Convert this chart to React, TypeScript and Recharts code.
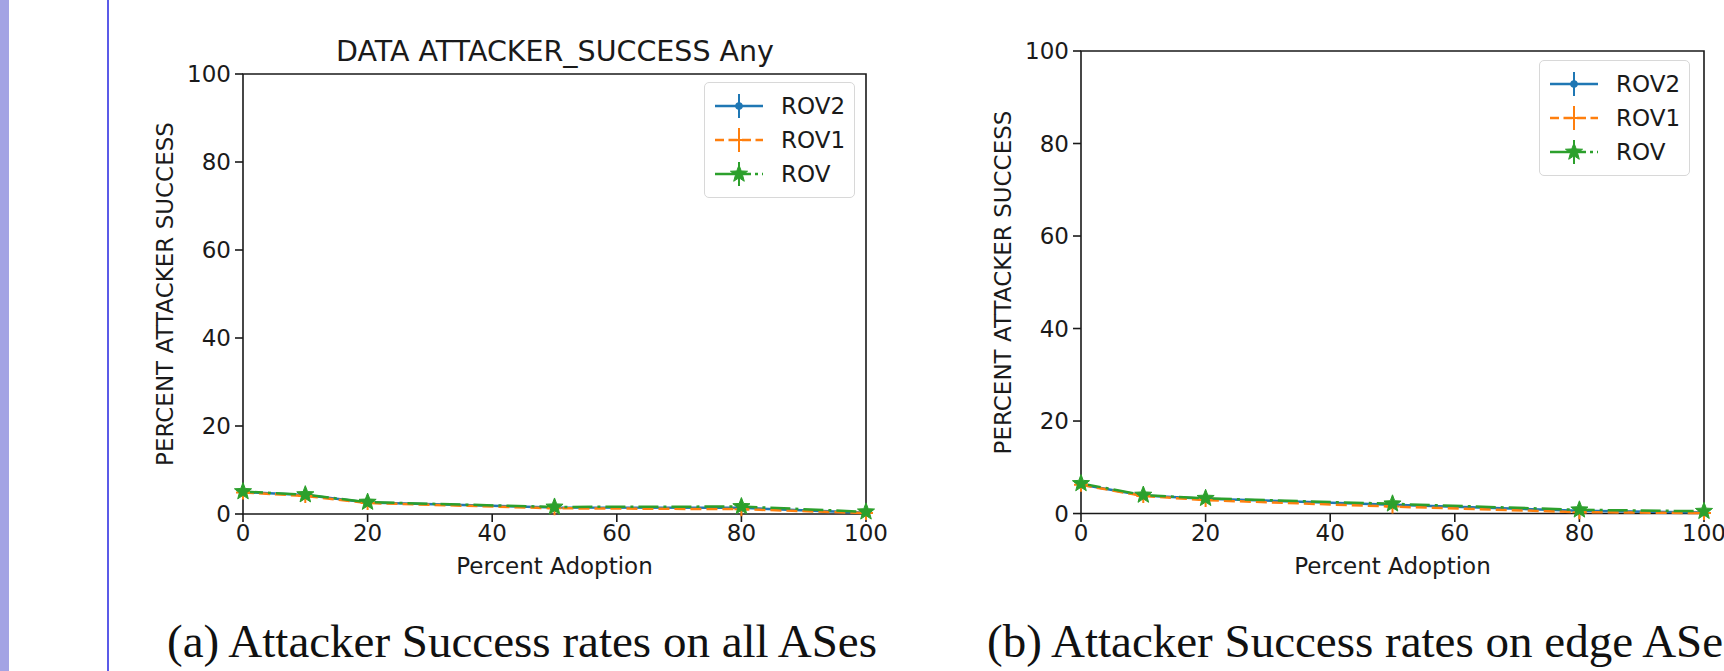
import React from 'react';
import { LineChart, Line, XAxis, YAxis, ErrorBar, ReferenceArea } from 'recharts';

// percent adoption steps (x) and axis ticks
const adoption = [0, 10, 20, 50, 80, 100];
const xTicks = [0, 20, 40, 60, 80, 100];
const yTicks = [0, 20, 40, 60, 80, 100];

// (a) all ASes
const allRov2 = [5.0, 4.3, 2.6, 1.5, 1.4, 0.3];
const allRov1 = [4.9, 4.1, 2.5, 1.3, 1.1, 0.2];
const allRov = [5.1, 4.4, 2.7, 1.6, 1.7, 0.5];
const allRov2Err = [0.6, 0.6, 0.5, 0.4, 0.5, 0.2];
const allRov1Err = [0.6, 0.7, 0.5, 0.4, 0.5, 0.2];
const allRovErr = [0.7, 0.8, 0.6, 0.7, 1.4, 0.4];

// (b) edge ASes
const edgeRov2 = [6.3, 3.9, 3.2, 1.9, 0.6, 0.2];
const edgeRov1 = [6.2, 3.8, 2.9, 1.5, 0.3, 0.1];
const edgeRov = [6.5, 4.0, 3.3, 2.1, 0.8, 0.5];
const edgeRov2Err = [0.7, 0.6, 0.6, 0.5, 0.3, 0.2];
const edgeRov1Err = [0.7, 0.6, 0.6, 0.5, 0.3, 0.2];
const edgeRovErr = [0.8, 0.8, 0.8, 1.0, 0.5, 0.4];

const FONT = "'DejaVu Sans', sans-serif";
const INK = '#1a1a1a';

const series = [
    { key: 'rov2', name: 'ROV2', color: '#1f77b4', dash: undefined, legendDash: undefined, marker: 'dot' },
    { key: 'rov1', name: 'ROV1', color: '#ff7f0e', dash: '11 5', legendDash: '9 4.5', marker: 'plus' },
    { key: 'rov', name: 'ROV', color: '#2ca02c', dash: '20 5 3 5', legendDash: '36 4 3 4', marker: 'star' },
];

const buildRows = (rov2: number[], rov1: number[], rov: number[], e2: number[], e1: number[], e0: number[]) =>
    adoption.map((x, i) => ({
        x,
        rov2: rov2[i], rov2Err: e2[i],
        rov1: rov1[i], rov1Err: e1[i],
        rov: rov[i], rovErr: e0[i],
    }));

const allRows = buildRows(allRov2, allRov1, allRov, allRov2Err, allRov1Err, allRovErr);
const edgeRows = buildRows(edgeRov2, edgeRov1, edgeRov, edgeRov2Err, edgeRov1Err, edgeRovErr);

const starPoints = (cx: number, cy: number, ro: number, ri: number) => {
    const pts = [];
    for (let i = 0; i < 10; i++) {
        const r = i % 2 === 0 ? ro : ri;
        const a = -Math.PI / 2 + (i * Math.PI) / 5;
        pts.push(`${cx + r * Math.cos(a)},${cy + r * Math.sin(a)}`);
    }
    return pts.join(' ');
};

const Marker = ({ cx, cy, type, color }: any) => {
    if (cx == null || cy == null) return null;
    if (type === 'dot') return <circle cx={cx} cy={cy} r={3.8} fill={color} />;
    if (type === 'plus')
        return (
            <path d={`M${cx - 7},${cy}H${cx + 7}M${cx},${cy - 7}V${cy + 7}`} stroke={color} strokeWidth={2} />
        );
    return <polygon points={starPoints(cx, cy, 9, 3.8)} fill={color} stroke={color} strokeWidth={1} />;
};

// drawn outside the chart so it does not eat into the plot area
const LegendBox = ({ left, top }: { left: number; top: number }) => (
    <div
        style={{
            position: 'absolute',
            left,
            top,
            width: 151,
            height: 116,
            boxSizing: 'border-box',
            border: '1.5px solid #d8d8d8',
            borderRadius: 5,
            background: 'rgba(255,255,255,0.8)',
            paddingTop: 6,
        }}
    >
        {series.map(s => (
            <div key={s.key} style={{ display: 'flex', alignItems: 'center', height: 34 }}>
                <svg width={70} height={34}>
                    <line x1={10} x2={58} y1={17} y2={17} stroke={s.color} strokeWidth={2.5} strokeDasharray={s.legendDash} />
                    <line x1={34} x2={34} y1={5} y2={29} stroke={s.color} strokeWidth={2} />
                    <Marker cx={34} cy={17} type={s.marker} color={s.color} />
                </svg>
                <span style={{ fontFamily: FONT, fontSize: 23, color: INK, marginLeft: 6 }}>{s.name}</span>
            </div>
        ))}
    </div>
);

interface PanelProps {
    rows: any[];
    width: number;
    height: number;
    yAxisWidth: number;
    plotTop: number;
    plotRight: number;
    plotBottom: number;
    yLabelX: number;
}

const Panel: React.FC<PanelProps> = ({ rows, width, height, yAxisWidth, plotTop, plotRight, plotBottom, yLabelX }) => {
    const xAxisHeight = 80;
    return (
        <LineChart
            width={width}
            height={height}
            data={rows}
            margin={{ top: plotTop, right: width - plotRight, left: 0, bottom: height - plotBottom - xAxisHeight }}
        >
            <XAxis
                type="number"
                dataKey="x"
                domain={[0, 100]}
                ticks={xTicks}
                height={xAxisHeight}
                axisLine={false}
                tickSize={8}
                tickMargin={3}
                tickLine={{ stroke: INK, strokeWidth: 1.6 }}
                tick={{ fontSize: 23, fill: INK, fontFamily: FONT }}
                label={{
                    content: (p: any) => {
                        const vb = p.viewBox;
                        return (
                            <text x={vb.x + vb.width / 2} y={vb.y + 52} textAnchor="middle" dominantBaseline="central" fontSize={23} fontFamily={FONT} fill={INK}>
                                Percent Adoption
                            </text>
                        );
                    },
                }}
            />
            <YAxis
                type="number"
                domain={[0, 100]}
                ticks={yTicks}
                width={yAxisWidth}
                axisLine={false}
                tickSize={8}
                tickMargin={4}
                tickLine={{ stroke: INK, strokeWidth: 1.6 }}
                tick={{ fontSize: 23, fill: INK, fontFamily: FONT }}
                label={{
                    content: (p: any) => {
                        const vb = p.viewBox;
                        const cy = vb.y + vb.height / 2;
                        return (
                            <text x={yLabelX} y={cy} transform={`rotate(-90 ${yLabelX} ${cy})`} textAnchor="middle" dominantBaseline="central" fontSize={23} fontFamily={FONT} fill={INK}>
                                PERCENT ATTACKER SUCCESS
                            </text>
                        );
                    },
                }}
            />
            <ReferenceArea x1={0} x2={100} y1={0} y2={100} fill="none" stroke={INK} strokeWidth={1.6} ifOverflow="visible" />
            {series.map(s => (
                <Line
                    key={s.key}
                    dataKey={s.key}
                    name={s.name}
                    type="linear"
                    stroke={s.color}
                    strokeWidth={2.5}
                    strokeDasharray={s.dash}
                    isAnimationActive={false}
                    dot={(p: any) => <Marker key={`${s.key}-${p.index}`} cx={p.cx} cy={p.cy} type={s.marker} color={s.color} />}
                    activeDot={false}
                >
                    <ErrorBar dataKey={`${s.key}Err`} direction="y" width={0} stroke={s.color} strokeWidth={2} isAnimationActive={false} />
                </Line>
            ))}
        </LineChart>
    );
};

const captionStyle: React.CSSProperties = {
    position: 'absolute',
    top: 618,
    fontFamily: "'Liberation Serif', serif",
    fontSize: 47,
    lineHeight: '46px',
    color: '#111',
    whiteSpace: 'nowrap',
};

export default function App() {
    return (
        <div style={{ position: 'absolute', left: 0, top: 0, width: 1724, height: 671, overflow: 'hidden', background: '#fff' }}>
            <div style={{ position: 'absolute', left: 0, top: 0, width: 9, height: 671, background: '#a3a3e4' }} />
            <div style={{ position: 'absolute', left: 107, top: 0, width: 1.5, height: 671, background: '#5b5be8' }} />

            <div style={{ position: 'absolute', left: 0, top: 0 }}>
                <Panel rows={allRows} width={900} height={620} yAxisWidth={243} plotTop={74} plotRight={866} plotBottom={514} yLabelX={165} />
            </div>
            <LegendBox left={704} top={82} />
            <div style={{ position: 'absolute', left: 255, top: 36, width: 600, textAlign: 'center', fontFamily: FONT, fontSize: 28.5, lineHeight: '32px', color: INK }}>
                DATA ATTACKER_SUCCESS Any
            </div>

            <div style={{ position: 'absolute', left: 900, top: 0 }}>
                <Panel rows={edgeRows} width={824} height={620} yAxisWidth={181} plotTop={51} plotRight={1704 - 900} plotBottom={514} yLabelX={103} />
            </div>
            <LegendBox left={1539} top={60} />

            <div style={{ ...captionStyle, left: 167 }}>(a) Attacker Success rates on all ASes</div>
            <div style={{ ...captionStyle, left: 987 }}>(b) Attacker Success rates on edge ASes</div>
        </div>
    );
}
